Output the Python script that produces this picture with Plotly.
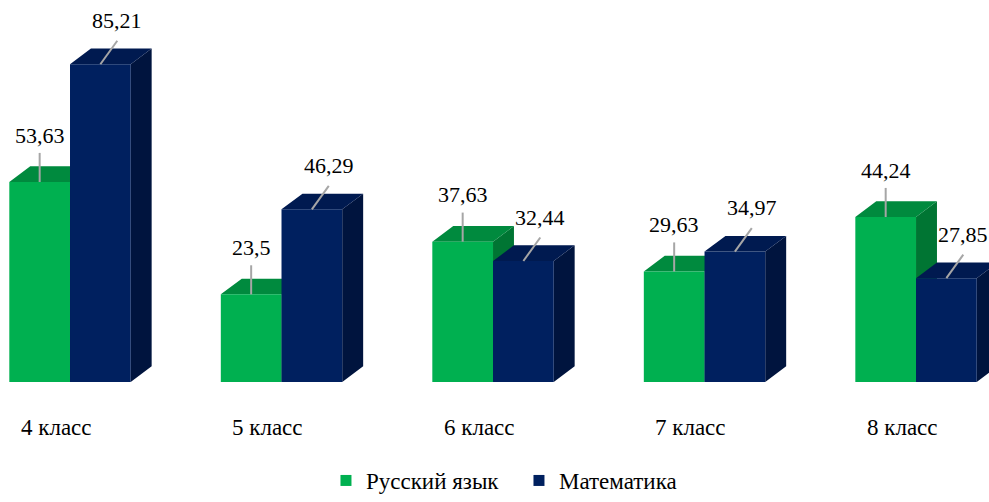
import plotly.graph_objects as go

categories = ["4 класс", "5 класс", "6 класс", "7 класс", "8 класс"]
russian = [53.63, 23.5, 37.63, 29.63, 44.24]
math_vals = [85.21, 46.29, 32.44, 34.97, 27.85]
series_names = ["Русский язык", "Математика"]

FONT = "Liberation Serif, Times New Roman, serif"
W = 0.287          # bar width in category units
DX = 0.099         # depth offset (x, category units)
DY = 4.2           # depth offset (y, value units)
YMAX = 94.39

colors = {
    "green": {"front": "#00B050", "top": "#008A3E", "side": "#007533"},
    "blue": {"front": "#00205F", "top": "#001A50", "side": "#00143E"},
}


def faces(vals, left):
    fx, fy, tx, ty, sx, sy = [], [], [], [], [], []
    for i, h in enumerate(vals):
        x0 = i - W if left else i
        x1 = x0 + W
        fx += [x0, x1, x1, x0, x0, None]
        fy += [0, 0, h, h, 0, None]
        tx += [x0, x1, x1 + DX, x0 + DX, x0, None]
        ty += [h, h, h + DY, h + DY, h, None]
        sx += [x1, x1 + DX, x1 + DX, x1, x1, None]
        sy += [0, DY, h + DY, h, 0, None]
    return (fx, fy), (tx, ty), (sx, sy)


fig = go.Figure()
for vals, left, ckey in [(russian, True, "green"), (math_vals, False, "blue")]:
    front, top, side = faces(vals, left)
    for (xs, ys), part in [(side, "side"), (top, "top"), (front, "front")]:
        fig.add_trace(go.Scatter(
            x=xs, y=ys, mode="lines", fill="toself",
            fillcolor=colors[ckey][part], line=dict(width=0, color=colors[ckey][part]),
            hoverinfo="skip", showlegend=False))

# legend entries
for name, ckey in zip(series_names, ["green", "blue"]):
    fig.add_trace(go.Scatter(
        x=[None], y=[None], mode="markers", name=name,
        marker=dict(symbol="square", size=11, color=colors[ckey]["front"])))

# leader lines
GL = 7.8                 # green leader length (value units)
BLX, BLY = 0.08, 6.3     # blue leader offset
lx, ly = [], []
for i, v in enumerate(russian):
    xc = i - W / 2
    lx += [xc, xc, None]
    ly += [v, v + GL, None]
for i, v in enumerate(math_vals):
    xc = i + W / 2
    lx += [xc, xc + BLX, None]
    ly += [v, v + BLY, None]
fig.add_trace(go.Scatter(x=lx, y=ly, mode="lines", line=dict(color="#A6A6A6", width=2),
                         hoverinfo="skip", showlegend=False))

annotations = []


def fmt(v):
    return str(v).replace(".", ",")


for i, v in enumerate(russian):
    annotations.append(dict(x=i - W / 2, y=v, text=fmt(v), showarrow=False,
                            xanchor="center", yanchor="middle", yshift=47,
                            font=dict(family=FONT, size=22, color="#000000")))
for i, v in enumerate(math_vals):
    annotations.append(dict(x=i + W / 2, y=v, text=fmt(v), showarrow=False,
                            xanchor="center", yanchor="middle", yshift=44, xshift=17,
                            font=dict(family=FONT, size=22, color="#000000")))
for i, c in enumerate(categories):
    annotations.append(dict(x=i, y=0, text=c, showarrow=False,
                            xanchor="center", yanchor="middle", yshift=-45, xshift=-14,
                            font=dict(family=FONT, size=23, color="#000000")))

fig.update_layout(
    width=989, height=502,
    margin=dict(l=0, r=0, t=30, b=112),
    paper_bgcolor="white", plot_bgcolor="white",
    xaxis=dict(visible=False, range=[-0.331, 4.345], fixedrange=True),
    yaxis=dict(visible=False, range=[0, YMAX], fixedrange=True),
    annotations=annotations,
    showlegend=True,
    legend=dict(orientation="h", x=0.3296, xanchor="left", y=-0.28, yanchor="middle",
                font=dict(family=FONT, size=23, color="#000000"),
                itemwidth=30, tracegroupgap=0, entrywidth=148),
)

# remove the browser's default 8px body margin so the figure sits at the window origin
fig.write_html("out.html", config={"displayModeBar": False, "staticPlot": True},
               post_script="document.body.style.margin='0';")
